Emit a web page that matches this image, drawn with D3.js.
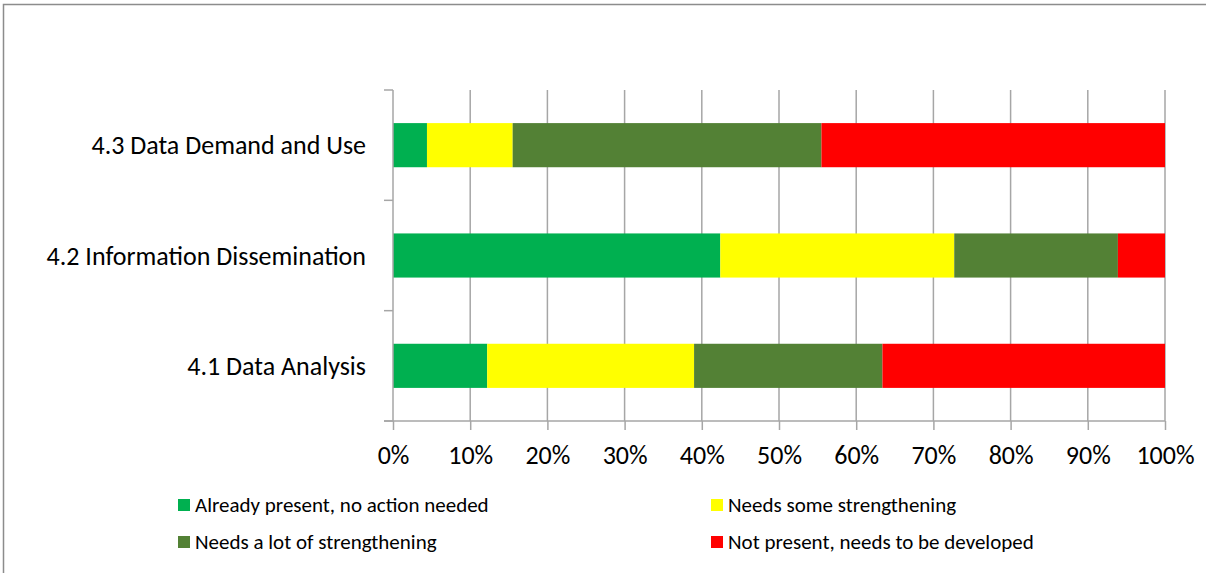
<!DOCTYPE html>
<html>
<head>
<meta charset="utf-8">
<script src="https://cdn.jsdelivr.net/npm/d3@7"></script>
<style>
  html, body { margin: 0; padding: 0; background: #fff; }
  svg { display: block; }
  text { font-family: Carlito, Lato, "Open Sans", sans-serif; fill: #000; }
</style>
</head>
<body>
<svg id="chart" width="1206" height="573"></svg>
<script>
// Categories, listed top to bottom
const categories = ["4.3 Data Demand and Use", "4.2 Information Dissemination", "4.1 Data Analysis"];

// Series names and colours (stack order left to right)
const seriesNames = [
  "Already present, no action needed",
  "Needs some strengthening",
  "Needs a lot of strengthening",
  "Not present, needs to be developed"
];
const seriesColors = ["#00B050", "#FFFF00", "#538135", "#FF0000"];

// Share of each category (percent), one array per series, in category order
const alreadyPresent   = [4.4, 42.4, 12.2];
const someStrengthen   = [11.1, 30.3, 26.8];
const lotStrengthen    = [40.0, 21.2, 24.4];
const notPresent       = [44.5, 6.1, 36.6];

// Axis tick values and labels
const tickValues = [0, 10, 20, 30, 40, 50, 60, 70, 80, 90, 100];
const tickLabels = ["0%", "10%", "20%", "30%", "40%", "50%", "60%", "70%", "80%", "90%", "100%"];

const seriesValues = [alreadyPresent, someStrengthen, lotStrengthen, notPresent];
const rows = categories.map((c, i) => {
  const r = { category: c };
  seriesNames.forEach((s, j) => { r[s] = seriesValues[j][i]; });
  return r;
});

const svg = d3.select("#chart");

// Outer frame (top and left edges)
svg.append("path")
  .attr("d", "M3.5,573 L3.5,4.5 L1206,4.5")
  .attr("fill", "none")
  .attr("stroke", "#8c8c8c")
  .attr("stroke-width", 1.5);

const plot = { left: 393, right: 1165, top: 90, bottom: 421 };

const x = d3.scaleLinear().domain([0, 100]).range([plot.left, plot.right]);
const y = d3.scaleBand().domain(categories).range([plot.top, plot.bottom])
  .paddingInner(0.6).paddingOuter(0.3);

const gridColor = "#a6a6a6";

// Vertical gridlines
svg.append("g")
  .selectAll("line")
  .data(tickValues.filter(v => v > 0))
  .join("line")
  .attr("x1", d => x(d)).attr("x2", d => x(d))
  .attr("y1", plot.top).attr("y2", plot.bottom)
  .attr("stroke", gridColor).attr("stroke-width", 1.5);

// Stacked bars
const stack = d3.stack().keys(seriesNames);
const stacked = stack(rows);

svg.append("g")
  .selectAll("g")
  .data(stacked)
  .join("g")
  .attr("fill", (d, i) => seriesColors[i])
  .selectAll("rect")
  .data(d => d)
  .join("rect")
  .attr("x", d => x(d[0]))
  .attr("width", d => x(d[1]) - x(d[0]))
  .attr("y", d => y(d.data.category))
  .attr("height", y.bandwidth());

// Horizontal axis: line, ticks below, percentage labels
const xAxis = d3.axisBottom(x)
  .tickValues(tickValues)
  .tickFormat((d, i) => tickLabels[i])
  .tickSize(9)
  .tickSizeOuter(0)
  .tickPadding(14);

const gx = svg.append("g")
  .attr("transform", `translate(0,${plot.bottom})`)
  .call(xAxis);
gx.select(".domain").remove();
gx.selectAll(".tick line").attr("stroke", gridColor).attr("stroke-width", 1.5);
gx.selectAll(".tick text")
  .attr("font-family", null)
  .style("font-size", "26px")
  .attr("fill", "#000")
  .attr("dy", null)
  .attr("y", 43);
svg.append("line")
  .attr("x1", plot.left - 9).attr("x2", plot.right)
  .attr("y1", plot.bottom).attr("y2", plot.bottom)
  .attr("stroke", gridColor).attr("stroke-width", 1.5);

// Vertical axis: line and ticks at category boundaries
svg.append("line")
  .attr("x1", plot.left).attr("x2", plot.left)
  .attr("y1", plot.top).attr("y2", plot.bottom)
  .attr("stroke", gridColor).attr("stroke-width", 1.5);
const step = y.step();
const boundaries = d3.range(categories.length + 1).map(i => plot.top + i * step);
svg.append("g")
  .selectAll("line")
  .data(boundaries)
  .join("line")
  .attr("x1", plot.left - 9).attr("x2", plot.left)
  .attr("y1", d => d).attr("y2", d => d)
  .attr("stroke", gridColor).attr("stroke-width", 1.5);

// Category labels
svg.append("g")
  .selectAll("text")
  .data(categories)
  .join("text")
  .attr("x", 366)
  .attr("y", d => y(d) + y.bandwidth() / 2 + 9)
  .attr("text-anchor", "end")
  .style("font-size", "26px")
  .text(d => d);

// Legend, two columns by two rows
const legendPos = [
  { x: 178, y: 499 },
  { x: 711, y: 499 },
  { x: 178, y: 536 },
  { x: 711, y: 536 }
];
const legend = svg.append("g")
  .selectAll("g")
  .data(seriesNames)
  .join("g")
  .attr("transform", (d, i) => `translate(${legendPos[i].x},${legendPos[i].y})`);
legend.append("rect")
  .attr("width", 12).attr("height", 12)
  .attr("fill", (d, i) => seriesColors[i]);
legend.append("text")
  .attr("x", 17)
  .attr("y", 13)
  .style("font-size", "21px")
  .text(d => d);
</script>
</body>
</html>
